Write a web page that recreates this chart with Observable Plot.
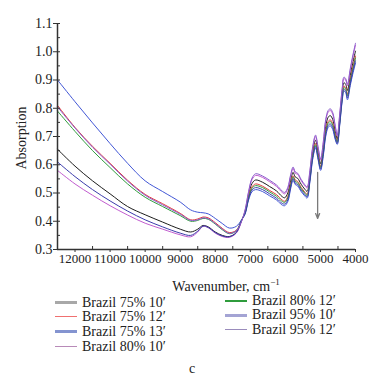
<!DOCTYPE html>
<html><head><meta charset="utf-8">
<script src="https://cdn.jsdelivr.net/npm/d3@7"></script>
<script src="https://cdn.jsdelivr.net/npm/@observablehq/plot@0.6"></script>
<style>
body{margin:0;background:#fff;font-family:"Liberation Serif","Times New Roman",serif;color:#222;}
#wrap{position:relative;width:380px;height:378px;overflow:hidden;}
#chart{position:absolute;left:0;top:0;}
.t{position:absolute;font-size:14px;line-height:14px;white-space:nowrap;}
.sw{position:absolute;height:0;}
</style></head><body>
<div id="wrap"><div id="chart"></div></div>
<script>
// ---- data ----
const wavenumbers = [12500,12000,11500,11000,10500,10000,9500,9000,8700,8500,8350,8200,8000,7800,7600,7400,
  7250,7150,7050,6950,6850,6650,6450,6250,6100,6020,
  5930,5850,5780,5720,5650,5550,5450,5380,5300,5220,
  5140,5070,4995,4920,4850,4780,4720,4650,4580,4520,
  4450,4380,4330,4280,4230,4150,4080,4000];

const brazil75_10 = [.655,.595,.543,.497,.452,.423,.397,.372,.362,.372,.385,.380,.362,.350,.346,.360,
  .402,.434,.493,.534,.546,.538,.523,.507,.488,.483,
  .500,.545,.573,.557,.552,.531,.514,.506,.564,.647,
  .687,.647,.604,.660,.736,.768,.774,.761,.720,.692,
  .764,.852,.890,.885,.863,.916,.959,1.002];
const brazil75_12 = [.810,.732,.665,.605,.545,.495,.462,.428,.405,.408,.415,.412,.395,.375,.360,.368,
  .403,.430,.486,.522,.532,.524,.509,.494,.476,.471,
  .488,.533,.561,.546,.541,.520,.504,.496,.554,.636,
  .676,.636,.594,.648,.721,.753,.759,.746,.708,.684,
  .754,.841,.878,.873,.849,.901,.943,.985];
const brazil75_13 = [.900,.823,.748,.675,.605,.543,.505,.468,.440,.432,.430,.426,.410,.392,.376,.382,
  .405,.425,.475,.505,.512,.505,.490,.475,.458,.455,
  .470,.515,.545,.530,.525,.505,.490,.482,.540,.620,
  .660,.620,.580,.630,.700,.732,.738,.725,.690,.672,
  .740,.825,.860,.855,.830,.880,.920,.960];
const brazil80_10 = [.580,.532,.492,.455,.422,.393,.372,.352,.345,.362,.382,.377,.358,.346,.343,.358,
  .400,.438,.502,.548,.562,.555,.540,.523,.503,.497,
  .515,.560,.587,.570,.566,.544,.526,.518,.576,.660,
  .700,.660,.616,.675,.754,.786,.792,.779,.735,.702,
  .776,.866,.905,.900,.880,.934,.979,1.023];
const brazil80_12 = [.790,.718,.650,.590,.532,.485,.452,.420,.400,.403,.410,.407,.390,.370,.356,.366,
  .404,.429,.483,.517,.526,.519,.504,.488,.471,.467,
  .483,.528,.557,.541,.536,.516,.500,.492,.550,.631,
  .671,.631,.590,.643,.715,.747,.753,.740,.703,.680,
  .750,.836,.873,.868,.844,.895,.936,.978];
const brazil95_10 = [.610,.558,.512,.472,.436,.405,.380,.358,.350,.365,.383,.378,.360,.348,.345,.360,
  .404,.427,.479,.511,.519,.512,.497,.481,.464,.461,
  .476,.521,.551,.535,.530,.510,.495,.487,.545,.625,
  .665,.625,.585,.636,.707,.739,.745,.732,.696,.676,
  .745,.830,.866,.861,.837,.887,.928,.968];
const brazil95_12 = [.805,.730,.662,.602,.542,.492,.458,.425,.403,.405,.412,.409,.392,.372,.357,.366,
  .400,.440,.505,.553,.568,.560,.545,.528,.508,.502,
  .520,.565,.592,.575,.570,.548,.530,.522,.580,.665,
  .705,.665,.620,.680,.760,.792,.798,.785,.740,.705,
  .780,.870,.910,.905,.885,.940,.985,1.030];

const seriesNames = ["Brazil 75% 10′","Brazil 75% 12′","Brazil 75% 13′","Brazil 80% 10′","Brazil 80% 12′","Brazil 95% 10′","Brazil 95% 12′"];
const seriesValues = [brazil75_10,brazil75_12,brazil75_13,brazil80_10,brazil80_12,brazil95_10,brazil95_12];

const xTickValues = [12000,11000,10000,9000,8000,7000,6000,5000,4000];
const xMinorTicks = [11500,10500,9500,8500,7500,6500,5500,4500];
const yTickValues = [0.3,0.4,0.5,0.6,0.7,0.8,0.9,1.0,1.1];
const yMinorTicks = [0.35,0.45,0.55,0.65,0.75,0.85,0.95,1.05];
const xDomain = [12500,4000];
const yDomain = [0.3,1.1];

const arrowX = 5080, arrowTop = 0.573, arrowBottom = 0.41;

const xLabel = "Wavenumber, cm";
const yLabel = "Absorption";
const caption = "c";

// ---- styles ----
const lineColors = ["#1c1c1c","#e23a3a","#4257d6","#c15ccf","#2f9c3c","#3b3bab","#8a5ccc"];
const swatchColors = ["#a8a8a8","#f07070","#8494d0","#b88ab8","#2f9c3c","#a4a4d4","#9a8cbc"];
const swatchWidths = [3,1.5,3,1.5,2,3,1.5];

const rows = [];
seriesValues.forEach((vals,i)=>vals.forEach((v,j)=>rows.push({series:seriesNames[i], wn:wavenumbers[j], a:v})));

const chart = Plot.plot({
  width:380, height:291,
  marginLeft:57, marginRight:25, marginTop:23, marginBottom:42,
  style:{fontFamily:"'Liberation Serif','Times New Roman',serif", fontSize:"13px", background:"white", color:"#222"},
  x:{domain:xDomain, axis:null},
  y:{domain:yDomain, axis:null},
  color:{domain:seriesNames, range:lineColors},
  marks:[
    Plot.line(rows,{x:"wn",y:"a",z:"series",stroke:"series",strokeWidth:1,curve:"catmull-rom"}),
    Plot.arrow([{x:arrowX,y1:arrowTop,y2:arrowBottom}],{x1:"x",x2:"x",y1:"y1",y2:"y2",stroke:"#7a7a7a",strokeWidth:1.3,headLength:6,headAngle:45}),
    Plot.ruleX([xDomain[0]],{stroke:"#333",strokeWidth:1.5}),
    Plot.ruleY([yDomain[0]],{stroke:"#333",strokeWidth:1.5}),
    Plot.axisY(yTickValues,{tickSize:4,tickPadding:1,tickFormat:d=>d.toFixed(1),fontSize:14,label:null,stroke:"#333"}),
    Plot.axisY(yMinorTicks,{tickSize:3,dx:3,fill:null,label:null,stroke:"#333"}),
    Plot.axisY(yTickValues,{tickSize:3,dx:3,fill:null,label:null,stroke:"#333"}),
    Plot.axisX(xTickValues,{tickSize:3,tickPadding:1,tickFormat:d=>String(d),fontSize:13,label:null,stroke:"#333"}),
    Plot.axisX(xMinorTicks,{tickSize:3,dy:-3,fill:null,label:null,stroke:"#333"})
  ]
});
const wrap = document.getElementById("wrap");
document.getElementById("chart").appendChild(chart);

function addText(html, left, top, extra){
  const d = document.createElement("div");
  d.className = "t";
  d.innerHTML = html;
  d.style.left = left+"px"; d.style.top = top+"px";
  if (extra) Object.assign(d.style, extra);
  wrap.appendChild(d);
  return d;
}
// axis titles
addText(xLabel+"<sup style='font-size:9px;vertical-align:6px'>−1</sup>", 226, 275, {transform:"translateX(-50%)"});
addText(yLabel, 22, 137.5, {transform:"translate(-50%,-50%) rotate(-90deg)"});
// legend
const legendPos = [[55,302.5],[55,316.5],[55,331.5],[55,346.5],[225,300.5],[225,315],[225,330]];
seriesNames.forEach((name,i)=>{
  const [lx,ly] = legendPos[i];
  const s = document.createElement("div");
  s.className = "sw";
  s.style.left = lx+"px"; s.style.top = (ly - swatchWidths[i]/2)+"px";
  s.style.width = "22px";
  s.style.borderTop = swatchWidths[i]+"px solid "+swatchColors[i];
  wrap.appendChild(s);
  addText(name, lx+27, ly-7);
});
addText(caption, 192, 362, {transform:"translateX(-50%)"});
</script>
</body></html>
